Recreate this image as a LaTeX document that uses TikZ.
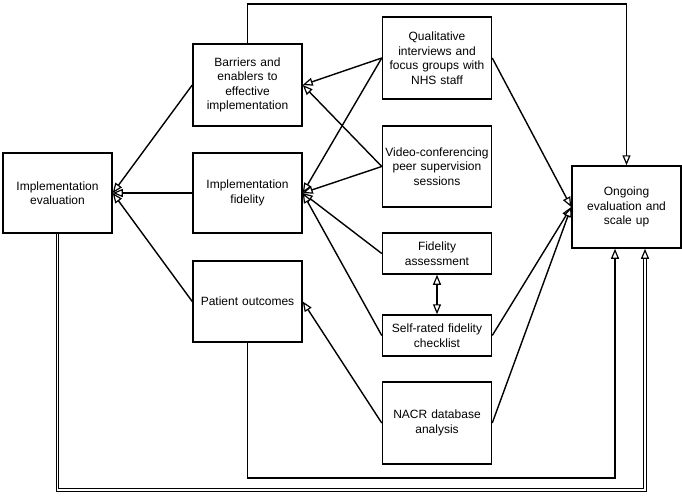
\documentclass[tikz,border=0pt]{standalone}
\usepackage{fontspec}
\setmainfont{Liberation Sans}
\usetikzlibrary{arrows.meta,calc}
\begin{document}
\begin{tikzpicture}[x=1pt,y=-1pt,
 box/.style={draw, line width=1.5pt, minimum width=109pt, text width=105pt, align=center, inner sep=0pt, font=\fontsize{12}{14.5}\selectfont},
 otip/.tip={Triangle[open, length=10pt, width=8pt, line width=1.2pt, fill=white]},
 conn/.style={line width=1.4pt, -otip},
 both/.style={line width=1.4pt, otip-otip},
 dbl/.style={line width=1.1pt, double, double distance=1.1pt}
]
\useasboundingbox (0,0) rectangle (682,495);

\node[box, minimum height=80pt] (ieval) at (57.5,193) {Implementation\\evaluation};
\node[box, minimum height=82pt] (bar) at (247.5,85) {Barriers and\\enablers to\\effective\\implementation};
\node[box, minimum height=80pt] (ifid) at (247.5,193) {Implementation\\fidelity};
\node[box, minimum height=81pt] (pat) at (247.5,301.5) {Patient outcomes};
\node[box, minimum height=82pt] (qual) at (437,58) {Qualitative\\interviews and\\focus groups with\\NHS staff};
\node[box, minimum height=81pt] (video) at (437,166.5) {Video-conferencing\\peer supervision\\sessions};
\node[box, minimum height=41pt] (fass) at (437,253.5) {Fidelity\\assessment};
\node[box, minimum height=41pt] (self) at (437,335.5) {Self-rated fidelity\\checklist};
\node[box, minimum height=82pt] (nacr) at (437,423) {NACR database\\analysis};
\node[box, minimum height=82pt] (ong) at (626.5,207) {Ongoing\\evaluation and\\scale up};

\draw[conn] (bar.west) -- (ieval.east);
\draw[conn] (ifid.west) -- (ieval.east);
\draw[conn] (pat.west) -- (ieval.east);

\draw[conn] (qual.west) -- (bar.east);
\draw[conn] (qual.west) -- (ifid.east);
\draw[conn] (video.west) -- (bar.east);
\draw[conn] (video.west) -- (ifid.east);
\draw[conn] (fass.west) -- (ifid.east);
\draw[conn] (self.west) -- (ifid.east);
\draw[conn] (nacr.west) -- (pat.east);

\draw[conn] (qual.east) -- (ong.west);
\draw[conn] (self.east) -- (ong.west);
\draw[conn] (nacr.east) -- (ong.west);

\draw[both] (fass.south) -- (self.north);

\coordinate (topy) at (0,4);
\draw[conn] (bar.north) |- (topy -| ong.north) -- (ong.north);

\coordinate (ongA) at ($(ong.south)+(-11.5,0)$);
\coordinate (ongB) at ($(ong.south)+(18.5,0)$);
\coordinate (lowA) at (0,478);
\coordinate (lowB) at (0,490);
\draw[conn] (pat.south) |- (lowA -| ongA) -- (ongA);
\draw[dbl, -otip] (ieval.south) |- (lowB -| ongB) -- (ongB);
\end{tikzpicture}
\end{document}
